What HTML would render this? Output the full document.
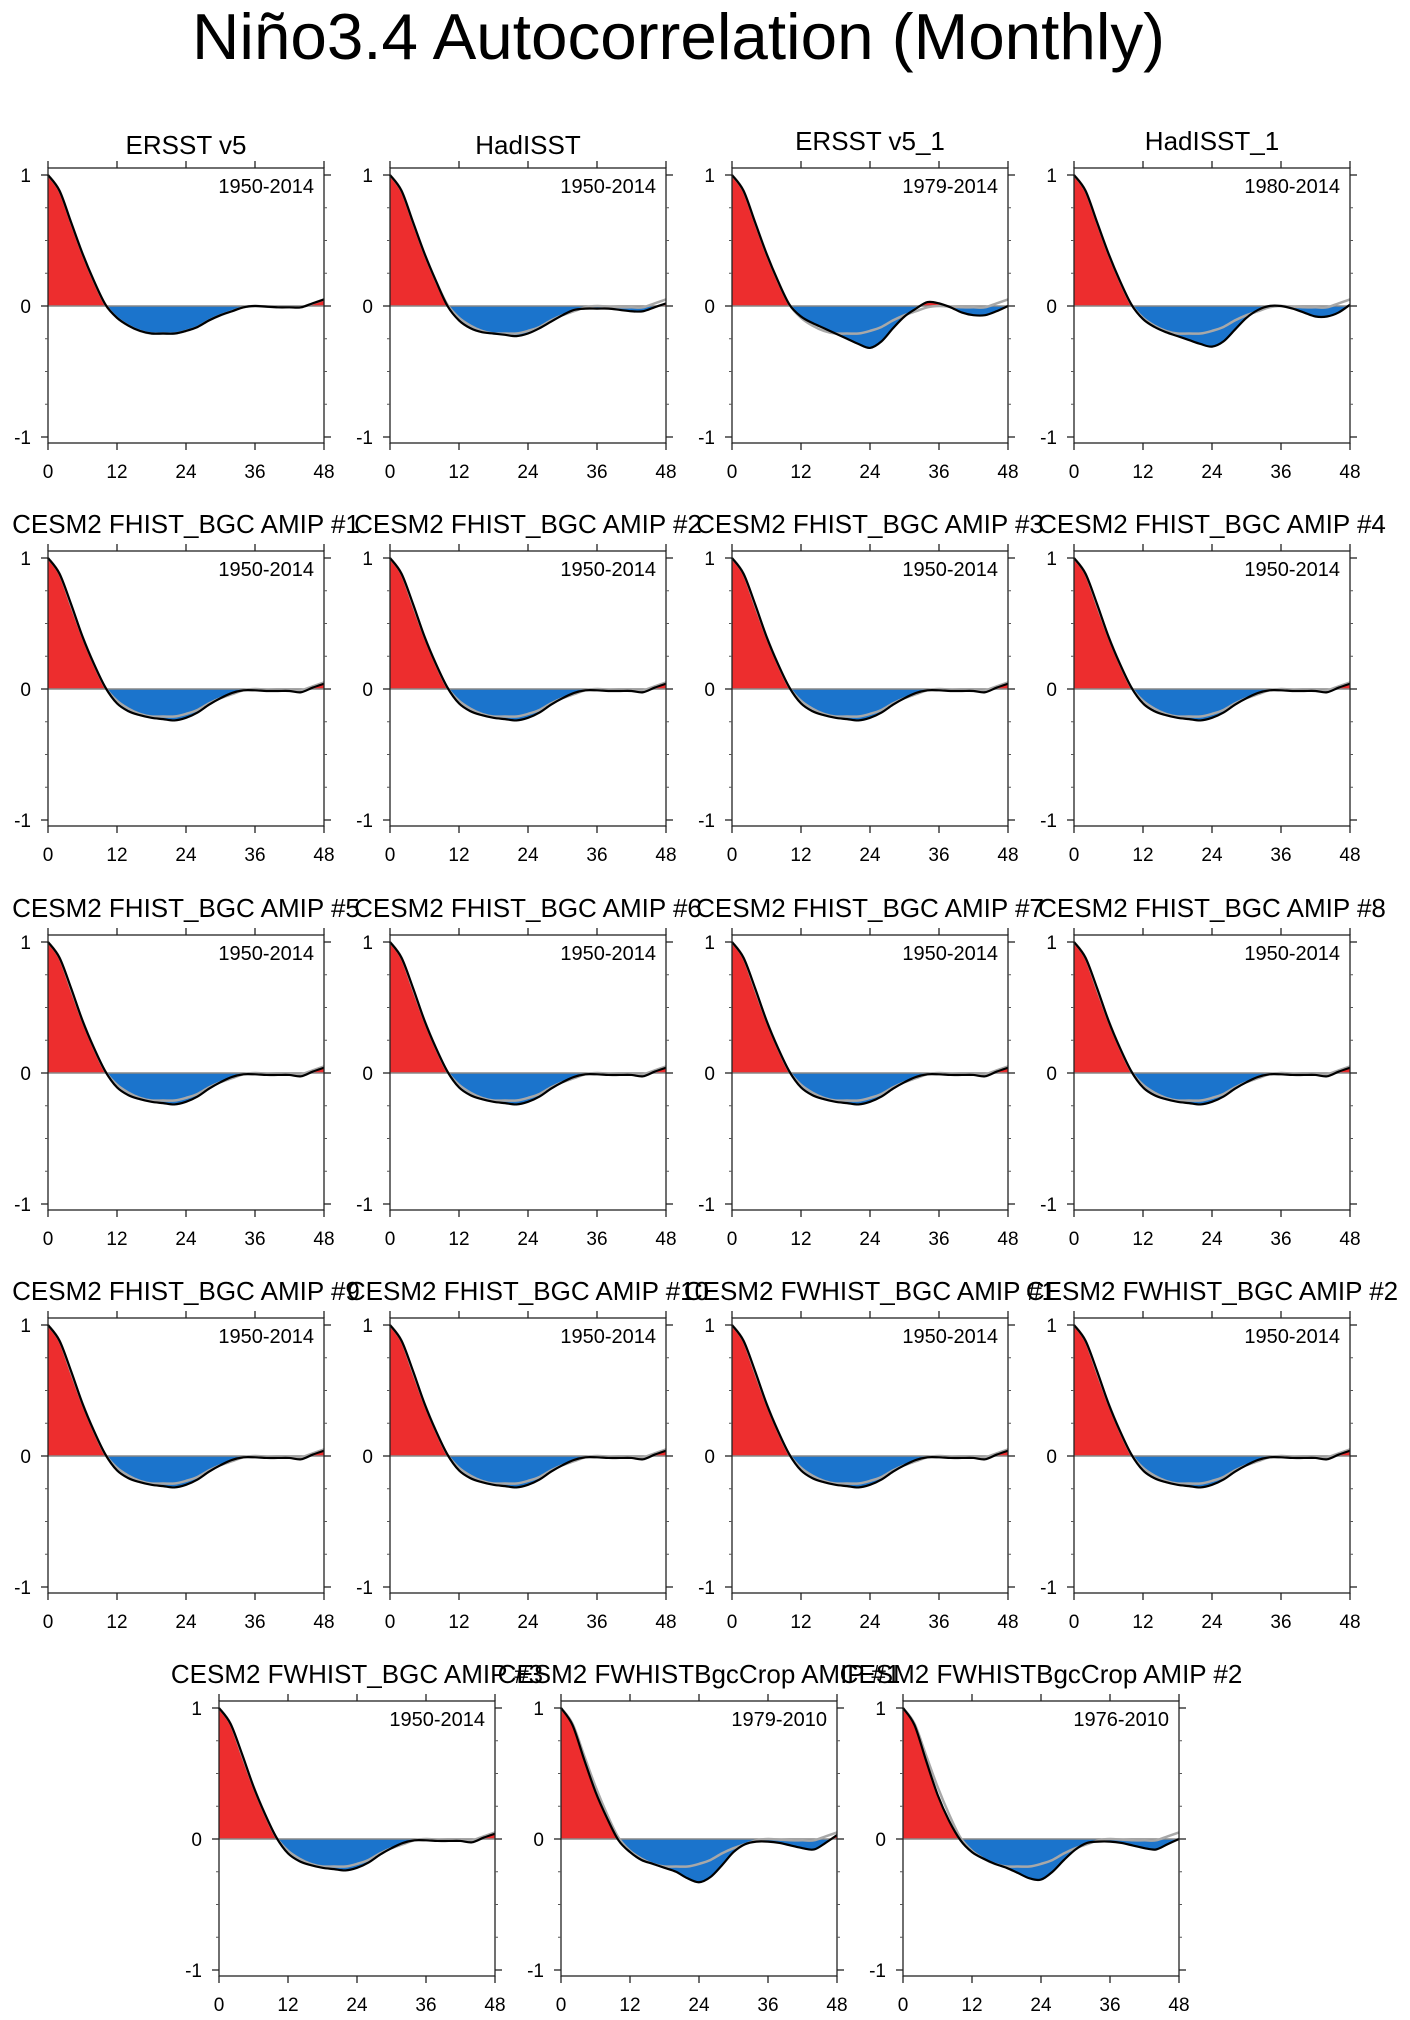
<!DOCTYPE html>
<html><head><meta charset="utf-8">
<style>
html,body{margin:0;padding:0;background:#fff;}
svg{display:block;font-family:"Liberation Sans",Arial,sans-serif;}
</style></head>
<body>
<svg id="fig" width="1410" height="2020" viewBox="0 0 1410 2020" xmlns="http://www.w3.org/2000/svg">
<rect x="0" y="0" width="1410" height="2020" fill="#fff"/>
<text x="192" y="59" font-size="65" textLength="973" lengthAdjust="spacingAndGlyphs" fill="#000">Niño3.4 Autocorrelation (Monthly)</text>
</svg>
<script>
// Lags sampled every 2 months (0..48)
const lags = [0,2,4,6,8,10,12,14,16,18,20,22,24,26,28,30,32,34,36,38,40,42,44,46,48];
const ersst   = [1,0.88,0.64,0.40,0.19,0.01,-0.09,-0.15,-0.19,-0.21,-0.21,-0.21,-0.19,-0.16,-0.11,-0.07,-0.04,-0.01,0,-0.005,-0.01,-0.01,-0.01,0.02,0.05];
const hadisst = [1,0.88,0.64,0.40,0.19,0.0,-0.11,-0.17,-0.20,-0.21,-0.22,-0.23,-0.21,-0.17,-0.12,-0.07,-0.03,-0.02,-0.02,-0.02,-0.03,-0.04,-0.04,-0.01,0.02];
const ersst1  = [1,0.88,0.64,0.40,0.19,0.01,-0.08,-0.13,-0.17,-0.21,-0.25,-0.29,-0.32,-0.27,-0.17,-0.08,-0.02,0.03,0.02,-0.01,-0.05,-0.07,-0.07,-0.04,0.0];
const hadisst1= [1,0.88,0.64,0.40,0.19,0.01,-0.10,-0.16,-0.20,-0.23,-0.26,-0.29,-0.31,-0.27,-0.18,-0.09,-0.03,0.0,0.0,-0.02,-0.05,-0.08,-0.08,-0.05,0.01];
const cesm    = [1,0.88,0.65,0.40,0.19,0.01,-0.11,-0.17,-0.20,-0.22,-0.23,-0.24,-0.22,-0.18,-0.12,-0.07,-0.03,-0.01,-0.01,-0.015,-0.015,-0.015,-0.025,0.01,0.04];
const crop1   = [1,0.87,0.61,0.36,0.16,-0.01,-0.10,-0.16,-0.19,-0.22,-0.25,-0.30,-0.33,-0.29,-0.20,-0.10,-0.04,-0.02,-0.02,-0.03,-0.05,-0.07,-0.08,-0.03,0.03];
const crop2   = [1,0.87,0.60,0.34,0.14,-0.01,-0.10,-0.15,-0.19,-0.22,-0.26,-0.30,-0.31,-0.25,-0.16,-0.08,-0.03,-0.02,-0.02,-0.03,-0.05,-0.07,-0.08,-0.04,0.0];
const reference = ersst;
const xTicks = [0,12,24,36,48];
const xTickLabels = ["0","12","24","36","48"];
const yTicks = [-1,0,1];
const yTickLabels = ["-1","0","1"];
const yMinor = [-0.75,-0.5,-0.25,0.25,0.5,0.75];
const titles = ["ERSST v5","HadISST","ERSST v5_1","HadISST_1",
 "CESM2 FHIST_BGC AMIP #1","CESM2 FHIST_BGC AMIP #2","CESM2 FHIST_BGC AMIP #3","CESM2 FHIST_BGC AMIP #4",
 "CESM2 FHIST_BGC AMIP #5","CESM2 FHIST_BGC AMIP #6","CESM2 FHIST_BGC AMIP #7","CESM2 FHIST_BGC AMIP #8",
 "CESM2 FHIST_BGC AMIP #9","CESM2 FHIST_BGC AMIP #10","CESM2 FWHIST_BGC AMIP #1","CESM2 FWHIST_BGC AMIP #2",
 "CESM2 FWHIST_BGC AMIP #3","CESM2 FWHISTBgcCrop AMIP #1","CESM2 FWHISTBgcCrop AMIP #2"];
const periods = ["1950-2014","1950-2014","1979-2014","1980-2014",
 "1950-2014","1950-2014","1950-2014","1950-2014","1950-2014","1950-2014","1950-2014","1950-2014",
 "1950-2014","1950-2014","1950-2014","1950-2014","1950-2014","1979-2010","1976-2010"];
const series = [ersst,hadisst,ersst1,hadisst1,cesm,cesm,cesm,cesm,cesm,cesm,cesm,cesm,cesm,cesm,cesm,cesm,cesm,crop1,crop2];

const NS="http://www.w3.org/2000/svg";
const svg=document.getElementById('fig');
const W=276,H=275,rowTops=[168,551,935,1318,1701];
function mk(tag,attrs,parent){const e=document.createElementNS(NS,tag);for(const k in attrs)e.setAttribute(k,attrs[k]);(parent||svg).appendChild(e);return e;}
function smooth(pts){let d=`M${pts[0][0]},${pts[0][1]}`;for(let i=0;i<pts.length-1;i++){const p0=pts[Math.max(0,i-1)],p1=pts[i],p2=pts[i+1],p3=pts[Math.min(pts.length-1,i+2)];
 const c1x=p1[0]+(p2[0]-p0[0])/6,c1y=p1[1]+(p2[1]-p0[1])/6,c2x=p2[0]-(p3[0]-p1[0])/6,c2y=p2[1]-(p3[1]-p1[1])/6;
 d+=` C${c1x.toFixed(2)},${c1y.toFixed(2)} ${c2x.toFixed(2)},${c2y.toFixed(2)} ${p2[0].toFixed(2)},${p2[1].toFixed(2)}`;}return d;}

titles.forEach((t,i)=>{
 let row=Math.floor(i/4),col=i%4,left;
 if(row<4) left=48+col*342; else left=219+col*342;
 const top=rowTops[row];
 const xS=v=>left+v/48*W;
 const yS=v=>top+138-v*131;
 const g=mk('g',{});
 
 
 const cid='clip'+i;
 const defs=mk('defs',{},g);
 const cpA=mk('clipPath',{id:cid+'a'},defs);mk('rect',{x:left,y:top,width:W,height:yS(0)-top},cpA);
 const cpB=mk('clipPath',{id:cid+'b'},defs);mk('rect',{x:left,y:yS(0),width:W,height:top+H-yS(0)},cpB);
 const pts=lags.map((l,k)=>[xS(l),yS(series[i][k])]);
 const line=smooth(pts);
 const area=line+` L${xS(48)},${yS(0)} L${xS(0)},${yS(0)} Z`;
 const pos=mk('path',{d:area,fill:'#ED2D2E','clip-path':`url(#${cid}a)`},g);
 
 
 const neg=mk('path',{d:area,fill:'#1B74CC','clip-path':`url(#${cid}b)`},g);
 
 
 const z=mk('line',{x1:left,x2:left+W,y1:yS(0),y2:yS(0),stroke:'#888','stroke-width':1.5},g);
 
 
 const rp=lags.map((l,k)=>[xS(l),yS(reference[k])]);
 const rl=mk('path',{d:smooth(rp),fill:'none',stroke:'#a8a8a8','stroke-width':2.5},g);
 
 
 const ml=mk('path',{d:line,fill:'none',stroke:'#000','stroke-width':2.2},g);
 
 
 const fr=mk('rect',{x:left,y:top,width:W,height:H,fill:'none',stroke:'#222','stroke-width':1.3},g);
 
 
 xTicks.forEach((v,k)=>{
  mk('line',{x1:xS(v),x2:xS(v),y1:top+H,y2:top+H+7,stroke:'#222','stroke-width':1.3},g);
  mk('line',{x1:xS(v),x2:xS(v),y1:top,y2:top-7,stroke:'#222','stroke-width':1.3},g);
  const tl=mk('text',{x:xS(v),y:top+H+35,'font-size':19,'text-anchor':'middle',fill:'#000'},g);
  
  
  tl.textContent=xTickLabels[k];
 });
 yTicks.forEach((v,k)=>{
  mk('line',{x1:left,x2:left-7,y1:yS(v),y2:yS(v),stroke:'#222','stroke-width':1.3},g);
  mk('line',{x1:left+W,x2:left+W+7,y1:yS(v),y2:yS(v),stroke:'#222','stroke-width':1.3},g);
  const tl=mk('text',{x:left-17,y:yS(v)+7,'font-size':19,'text-anchor':'end',fill:'#000'},g);
  
  
  tl.textContent=yTickLabels[k];
 });
 yMinor.forEach(v=>{
  mk('line',{x1:left,x2:left-3,y1:yS(v),y2:yS(v),stroke:'#555','stroke-width':1},g);
  mk('line',{x1:left+W,x2:left+W+3,y1:yS(v),y2:yS(v),stroke:'#555','stroke-width':1},g);
 });
 const pt=mk('text',{x:left+W-10,y:top+25,'font-size':20,'text-anchor':'end',fill:'#000'},g);
 
 
 pt.textContent=periods[i];
 let ty=top-(row===0?14:18); if(row===0&&col>=2) ty-=4;
 const tt=mk('text',{x:left+W/2,y:ty,'font-size':26,'text-anchor':'middle',fill:'#000'},g);
 
 
 tt.textContent=t;
});
</script>
</body></html>
